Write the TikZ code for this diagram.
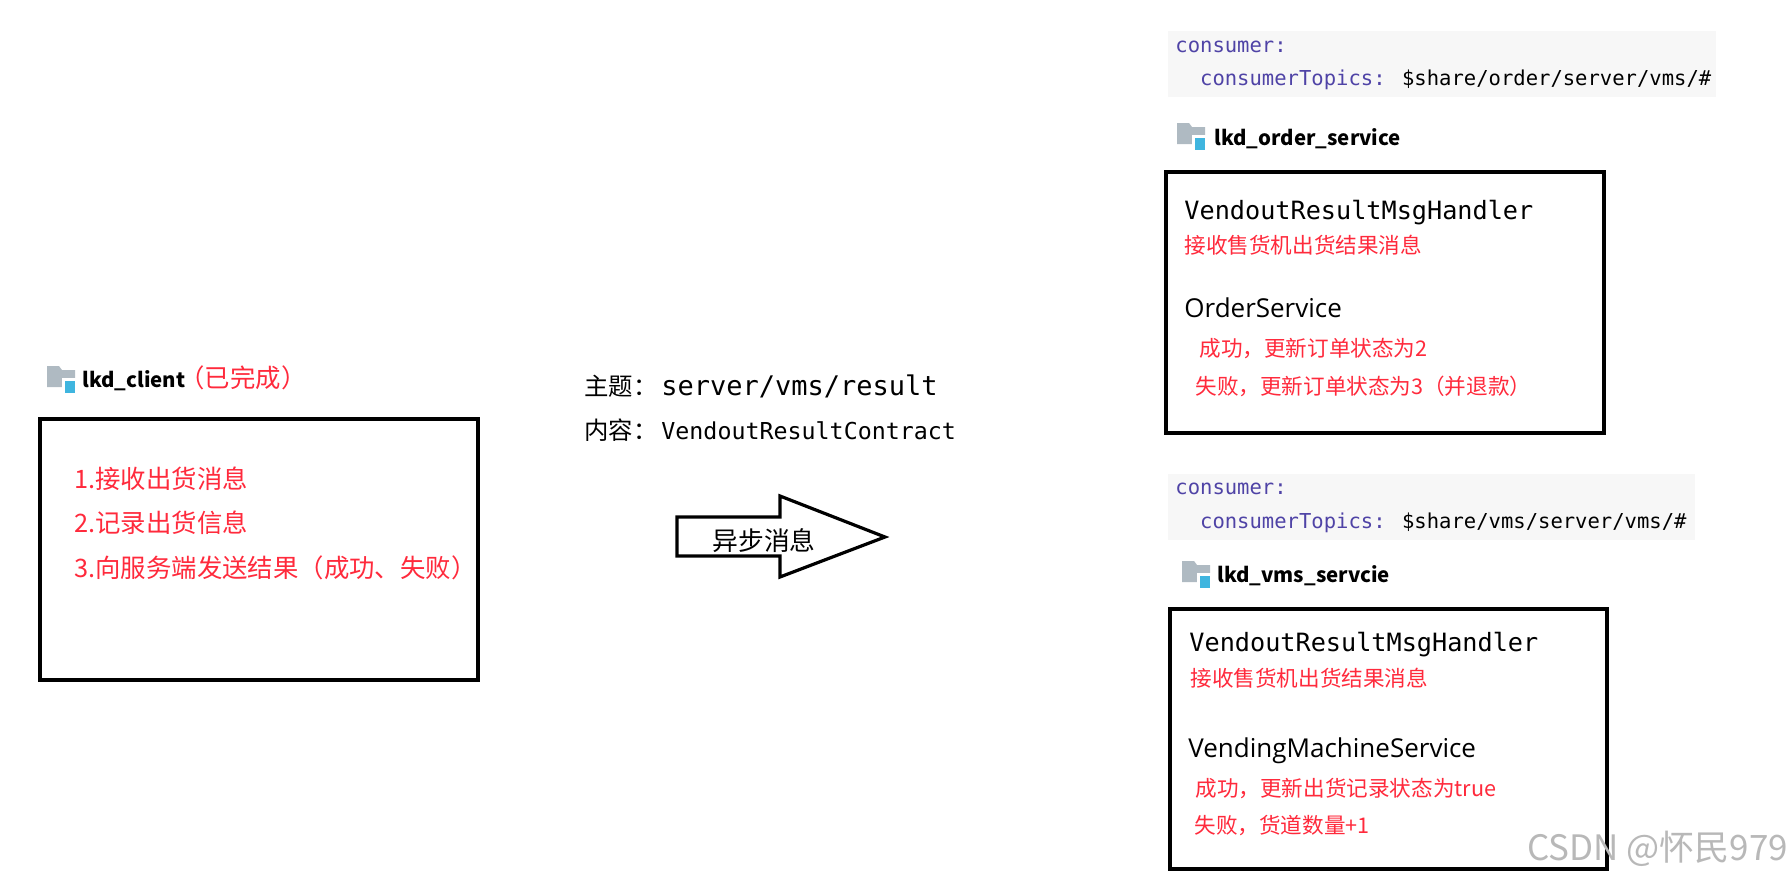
\documentclass[tikz,border=0pt]{standalone}
\usepackage{fontspec}
\setmainfont{Noto Sans CJK SC}
\newfontfamily\codefont{DejaVu Sans Mono}
\newfontfamily\uifont{Open Sans}
\usetikzlibrary{positioning}
\definecolor{notered}{HTML}{FF2A3C}
\definecolor{keypurple}{HTML}{4F43A6}
\definecolor{codegray}{HTML}{F7F7F7}
\definecolor{foldergray}{HTML}{AFBAC2}
\definecolor{folderblue}{HTML}{3FB5DF}
\tikzset{
  txt/.style={inner sep=0pt,anchor=base west},
  notetxt/.style={txt,text=notered,font=\fontsize{10.8}{12}\selectfont},
  listtxt/.style={txt,text=notered,font=\fontsize{12.7}{14}\selectfont},
  hdltxt/.style={txt,font=\codefont\fontsize{12.6}{14}\selectfont},
  svctxt/.style={txt,font=\uifont\fontsize{13}{14}\selectfont},
  pkgtxt/.style={txt,font=\bfseries\fontsize{10.2}{13}\selectfont},
  ymltxt/.style={txt,font=\codefont\fontsize{10.27}{12}\selectfont},
  frame/.style={draw=black,line width=1.6pt,fill=white},
  pics/folder/.style={code={
    \fill[foldergray] (0,0) -- (12,0) -- (15,4) -- (28,4) -- (28,21) -- (0,21) -- cycle;
    \fill[white] (15,12) rectangle (30,29);
    \fill[folderblue] (18,15) rectangle (28,27);
  }},
}
\begin{document}
\begin{tikzpicture}[x=0.5pt,y=-0.5pt]
  \useasboundingbox (0,0) rectangle (1790,878);

  % client side
  \pic at (47,366) {folder};
  \node[pkgtxt] (clientname) at (82,387) {lkd\_client};
  \node[listtxt] (clientdone) at (179,387) {（已完成）};
  \draw[frame] (40,419) rectangle (478,680);
  \node[listtxt] (clientone) at (74,488) {1.接收出货消息};
  \node[listtxt] (clienttwo) at (74,532) {2.记录出货信息};
  \node[listtxt] (clientthree) at (74,577) {3.向服务端发送结果（成功、失败）};

  % message in the middle
  \node[txt,font=\fontsize{12.2}{14}\selectfont] (topiclabel) at (584,395) {主题：};
  \node[txt,font=\codefont\fontsize{13.5}{15}\selectfont] (topicname) at (661,395) {server/vms/result};
  \node[txt,font=\fontsize{12.2}{14}\selectfont] (bodylabel) at (584,439) {内容：};
  \node[txt,font=\codefont\fontsize{11.65}{14}\selectfont] (bodyname) at (661,439) {VendoutResultContract};
  \draw[line width=1.6pt,line join=miter,fill=white]
    (677,517) -- (780,517) -- (780,496) -- (885,537) -- (780,577) -- (780,556) -- (677,556) -- cycle;
  \node[txt,font=\fontsize{12.9}{14}\selectfont] (asynclabel) at (712,550) {异步消息};

  % order service
  \fill[codegray] (1168,31) rectangle (1716,97);
  \node[ymltxt,text=keypurple] (orderkey) at (1175,52) {consumer:};
  \node[ymltxt] (ordertopic) at (1175,85)
    {\textcolor{keypurple}{\ \ consumerTopics:} \$share/order/server/vms/\#};
  \pic at (1177,123) {folder};
  \node[pkgtxt] (ordername) at (1214,145) {lkd\_order\_service};
  \draw[frame] (1166,172) rectangle (1604,433);
  \node[hdltxt] (orderhdl) at (1184,219) {VendoutResultMsgHandler};
  \node[notetxt] (orderrecv) at (1184,253) {接收售货机出货结果消息};
  \node[svctxt] (ordersvc) at (1184,317) {OrderService};
  \node[notetxt] (orderok) at (1199,356) {成功，更新订单状态为2};
  \node[notetxt] (orderfail) at (1195,394) {失败，更新订单状态为3（并退款）};

  % vms service
  \fill[codegray] (1168,474) rectangle (1695,540);
  \node[ymltxt,text=keypurple] (vmskey) at (1175,494) {consumer:};
  \node[ymltxt] (vmstopic) at (1175,528)
    {\textcolor{keypurple}{\ \ consumerTopics:} \$share/vms/server/vms/\#};
  \pic at (1182,561) {folder};
  \node[pkgtxt] (vmsname) at (1217,582) {lkd\_vms\_servcie};
  \draw[frame] (1170,609) rectangle (1607,869);
  \node[hdltxt] (vmshdl) at (1189,651) {VendoutResultMsgHandler};
  \node[notetxt] (vmsrecv) at (1190,686) {接收售货机出货结果消息};
  \node[svctxt] (vmssvc) at (1188,757) {VendingMachineService};
  \node[notetxt] (vmsok) at (1195,796) {成功，更新出货记录状态为true};
  \node[notetxt] (vmsfail) at (1194,833) {失败，货道数量+1};

  \node[txt,text=black!28,font=\fontsize{17.5}{19}\selectfont] (watermark) at (1527,860) {CSDN @怀民979};
\end{tikzpicture}
\end{document}
